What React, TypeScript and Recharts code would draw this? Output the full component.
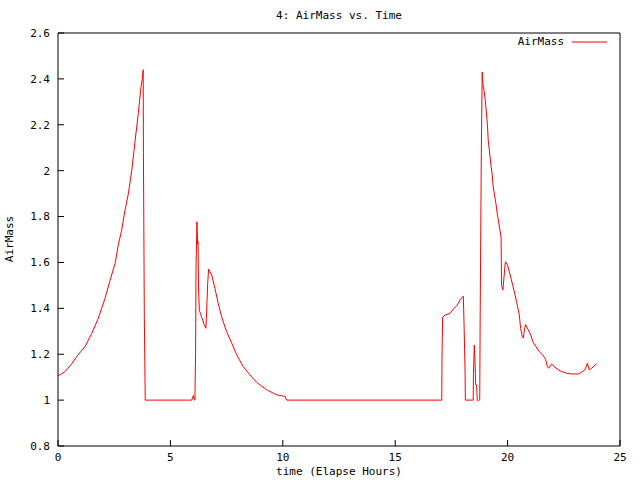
import React from "react";
import { LineChart, Line, XAxis, YAxis, Legend } from "recharts";

// elapsed hours and airmass
const hours = [
  0.0, 0.31, 0.61, 0.83, 1.2, 1.5, 1.79, 2.09, 2.31, 2.54, 2.68, 2.83, 2.98,
  3.13, 3.28, 3.43, 3.57, 3.69, 3.75, 3.79, 3.8, 3.84, 3.88, 5.95, 6.02, 6.06,
  6.09, 6.12, 6.14, 6.18, 6.21, 6.23, 6.25, 6.29, 6.4, 6.5, 6.58, 6.61, 6.66,
  6.7, 6.84, 6.98, 7.13, 7.28, 7.5, 7.73, 7.95, 8.24, 8.54, 8.84, 9.28, 9.73,
  10.1, 10.17, 17.07, 17.08, 17.11, 17.22, 17.44, 17.58, 17.76, 17.88, 18.03,
  18.06, 18.11, 18.12, 18.47, 18.48, 18.52, 18.55, 18.58, 18.62, 18.65, 18.7,
  18.76, 18.78, 18.83, 18.87, 18.91, 18.95, 19.01, 19.04, 19.1, 19.14, 19.22,
  19.26, 19.31, 19.36, 19.48, 19.54, 19.66, 19.71, 19.73, 19.79, 19.9, 19.99,
  20.06, 20.23, 20.33, 20.4, 20.52, 20.58, 20.65, 20.7, 20.74, 20.8, 20.92,
  21.03, 21.12, 21.26, 21.41, 21.56, 21.69, 21.77, 21.83, 21.96, 22.11, 22.26,
  22.41, 22.63, 22.85, 23.15, 23.3, 23.44, 23.55, 23.63, 23.74, 23.96,
];

const airMass = [
  1.105, 1.124, 1.158, 1.19, 1.233, 1.29, 1.356, 1.443, 1.52, 1.596, 1.675,
  1.74, 1.827, 1.9, 2.0, 2.13, 2.248, 2.363, 2.4, 2.44, 2.08, 1.36, 1.0, 1.0,
  1.02, 1.0, 1.0, 1.197, 1.58, 1.777, 1.68, 1.69, 1.49, 1.39, 1.36, 1.33,
  1.313, 1.38, 1.51, 1.571, 1.545, 1.487, 1.42, 1.363, 1.298, 1.248, 1.197,
  1.146, 1.11, 1.077, 1.045, 1.023, 1.016, 1.0, 1.0, 1.175, 1.361, 1.371,
  1.378, 1.396, 1.414, 1.436, 1.453, 1.342, 1.117, 1.0, 1.0, 1.117, 1.24,
  1.175, 1.066, 1.066, 1.0, 0.997, 1.003, 1.364, 2.074, 2.43, 2.37, 2.35,
  2.306, 2.27, 2.204, 2.13, 2.06, 2.023, 1.987, 1.929, 1.857, 1.813, 1.74,
  1.71, 1.5, 1.48, 1.603, 1.59, 1.566, 1.5, 1.458, 1.429, 1.371, 1.313, 1.277,
  1.27, 1.3, 1.33, 1.306, 1.284, 1.255, 1.233, 1.211, 1.197, 1.178, 1.146,
  1.139, 1.157, 1.143, 1.132, 1.124, 1.117, 1.114, 1.114, 1.122, 1.132, 1.161,
  1.132, 1.139, 1.158,
];

const xTicks = [0, 5, 10, 15, 20, 25];
const yTicks = [0.8, 1.0, 1.2, 1.4, 1.6, 1.8, 2.0, 2.2, 2.4, 2.6];

const FONT = '"DejaVu Sans Mono", monospace';

const data = hours.map((h, i) => ({ h, v: airMass[i] }));

const fmtY = (v: number) => String(Number(v.toFixed(1)));

const KeyBox = ({ payload }: any) => (
  <div
    style={{
      display: "flex",
      justifyContent: "flex-end",
      alignItems: "center",
      fontFamily: FONT,
      fontSize: 11,
      color: "#000",
    }}
  >
    {(payload || []).map((p: any) => (
      <React.Fragment key={p.value}>
        <span>{p.value}</span>
        <svg width={35} height={6} style={{ marginLeft: 8 }}>
          <line x1={0} y1={3} x2={35} y2={3} stroke={p.color} strokeWidth={1} />
        </svg>
      </React.Fragment>
    ))}
  </div>
);

export default function App() {
  return (
    <div
      style={{
        position: "absolute",
        left: 0,
        top: 0,
        width: 640,
        height: 480,
        background: "#fff",
        fontFamily: FONT,
      }}
    >
      <div
        style={{
          position: "absolute",
          left: 39,
          top: 9,
          width: 600,
          textAlign: "center",
          fontSize: 11,
          lineHeight: "14px",
        }}
      >
        4: AirMass vs. Time
      </div>
      <div
        style={{
          position: "absolute",
          left: 39,
          top: 465,
          width: 600,
          textAlign: "center",
          fontSize: 11,
          lineHeight: "14px",
        }}
      >
        time (Elapse Hours)
      </div>
      <div
        style={{
          position: "absolute",
          left: 10,
          top: 239,
          fontSize: 11,
          lineHeight: "14px",
          whiteSpace: "nowrap",
          transform: "translate(-50%, -50%) rotate(-90deg)",
        }}
      >
        AirMass
      </div>
      <LineChart
        width={640}
        height={480}
        data={data}
        margin={{ top: 32, right: 19, bottom: 0, left: 0 }}
      >
        <XAxis
          xAxisId="b"
          dataKey="h"
          type="number"
          domain={[0, 25]}
          ticks={xTicks}
          interval={0}
          allowDataOverflow
          height={34}
          tickSize={-6}
          tickMargin={13}
          stroke="#000"
          tick={{ fill: "#000", fontSize: 11, fontFamily: FONT }}
        />
        <XAxis
          xAxisId="t"
          orientation="top"
          type="number"
          domain={[0, 25]}
          ticks={xTicks}
          interval={0}
          allowDataOverflow
          height={1}
          tickSize={-6}
          tick={false}
          stroke="#000"
        />
        <YAxis
          yAxisId="l"
          type="number"
          domain={[0.8, 2.6]}
          ticks={yTicks}
          interval={0}
          allowDataOverflow
          width={58}
          tickSize={-6}
          tickMargin={14}
          tickFormatter={fmtY}
          stroke="#000"
          tick={{ fill: "#000", fontSize: 11, fontFamily: FONT }}
        />
        <YAxis
          yAxisId="r"
          orientation="right"
          type="number"
          domain={[0.8, 2.6]}
          ticks={yTicks}
          interval={0}
          allowDataOverflow
          width={1}
          tickSize={-6}
          tick={false}
          stroke="#000"
        />
        <Legend
          layout="horizontal"
          verticalAlign="middle"
          content={<KeyBox />}
          wrapperStyle={{ position: "absolute", left: 497, top: 35, width: 110 }}
        />
        <Line
          xAxisId="b"
          yAxisId="l"
          type="linear"
          dataKey="v"
          name="AirMass"
          stroke="#ff0000"
          strokeWidth={1}
          dot={false}
          activeDot={false}
          isAnimationActive={false}
        />
      </LineChart>
    </div>
  );
}
